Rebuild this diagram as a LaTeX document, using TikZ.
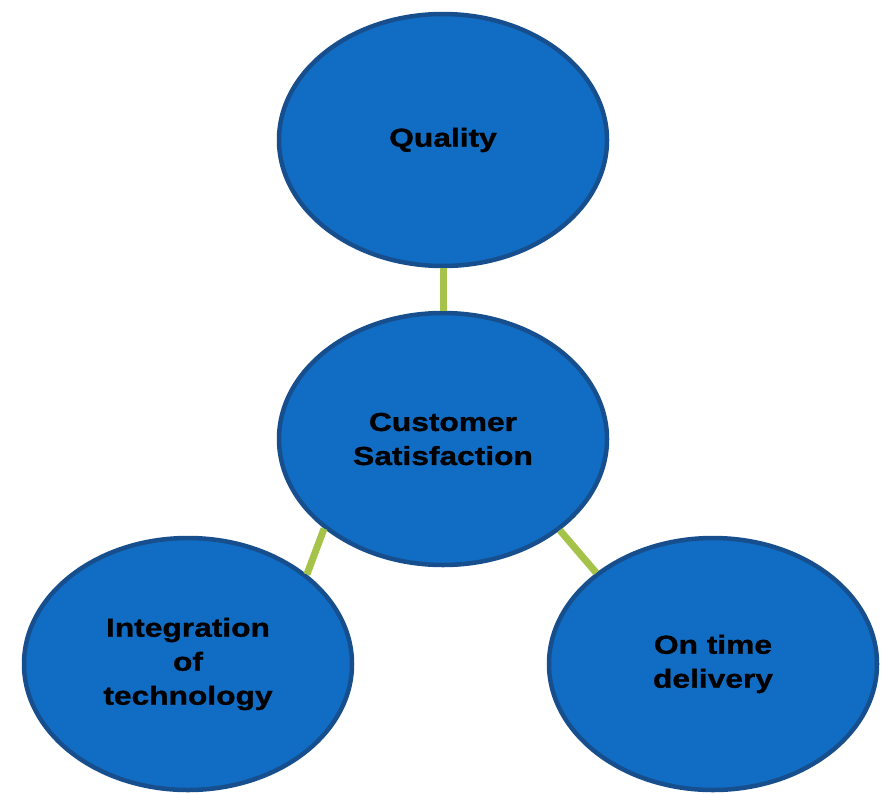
\documentclass[tikz,border=0pt]{standalone}
\usepackage{fontspec}
\setmainfont{Liberation Sans}[FakeStretch=1.22, BoldFeatures={FakeBold=1.2}]
\usetikzlibrary{shapes.geometric}
\definecolor{ellfill}{HTML}{116DC3}
\definecolor{elldraw}{HTML}{174F8E}
\definecolor{linkgreen}{HTML}{A5C348}
\tikzset{
  bubble/.style={ellipse, draw=elldraw, fill=ellfill, line width=4.5pt,
    minimum width=328pt, minimum height=252pt, align=center,
    font=\fontsize{26pt}{34pt}\selectfont\bfseries, text=black},
  link/.style={draw=linkgreen, line width=7pt}
}
\begin{document}
\begin{tikzpicture}[x=1pt,y=-1pt]
\useasboundingbox (0,0) rectangle (888,793);
\node[bubble] (q) at (443,140) {Quality};
\node[bubble] (cs) at (443,439) {Customer\\Satisfaction};
\node[bubble] (it) at (188,664) {Integration\\of\\technology};
\node[bubble] (ot) at (713,664) {On time\\delivery};
\draw[link] (q.south) -- (cs.north);
\draw[link] (cs.217.8) -- (it.37.8);
\draw[link] (cs.322.4) -- (ot.142.4);
\end{tikzpicture}
\end{document}
